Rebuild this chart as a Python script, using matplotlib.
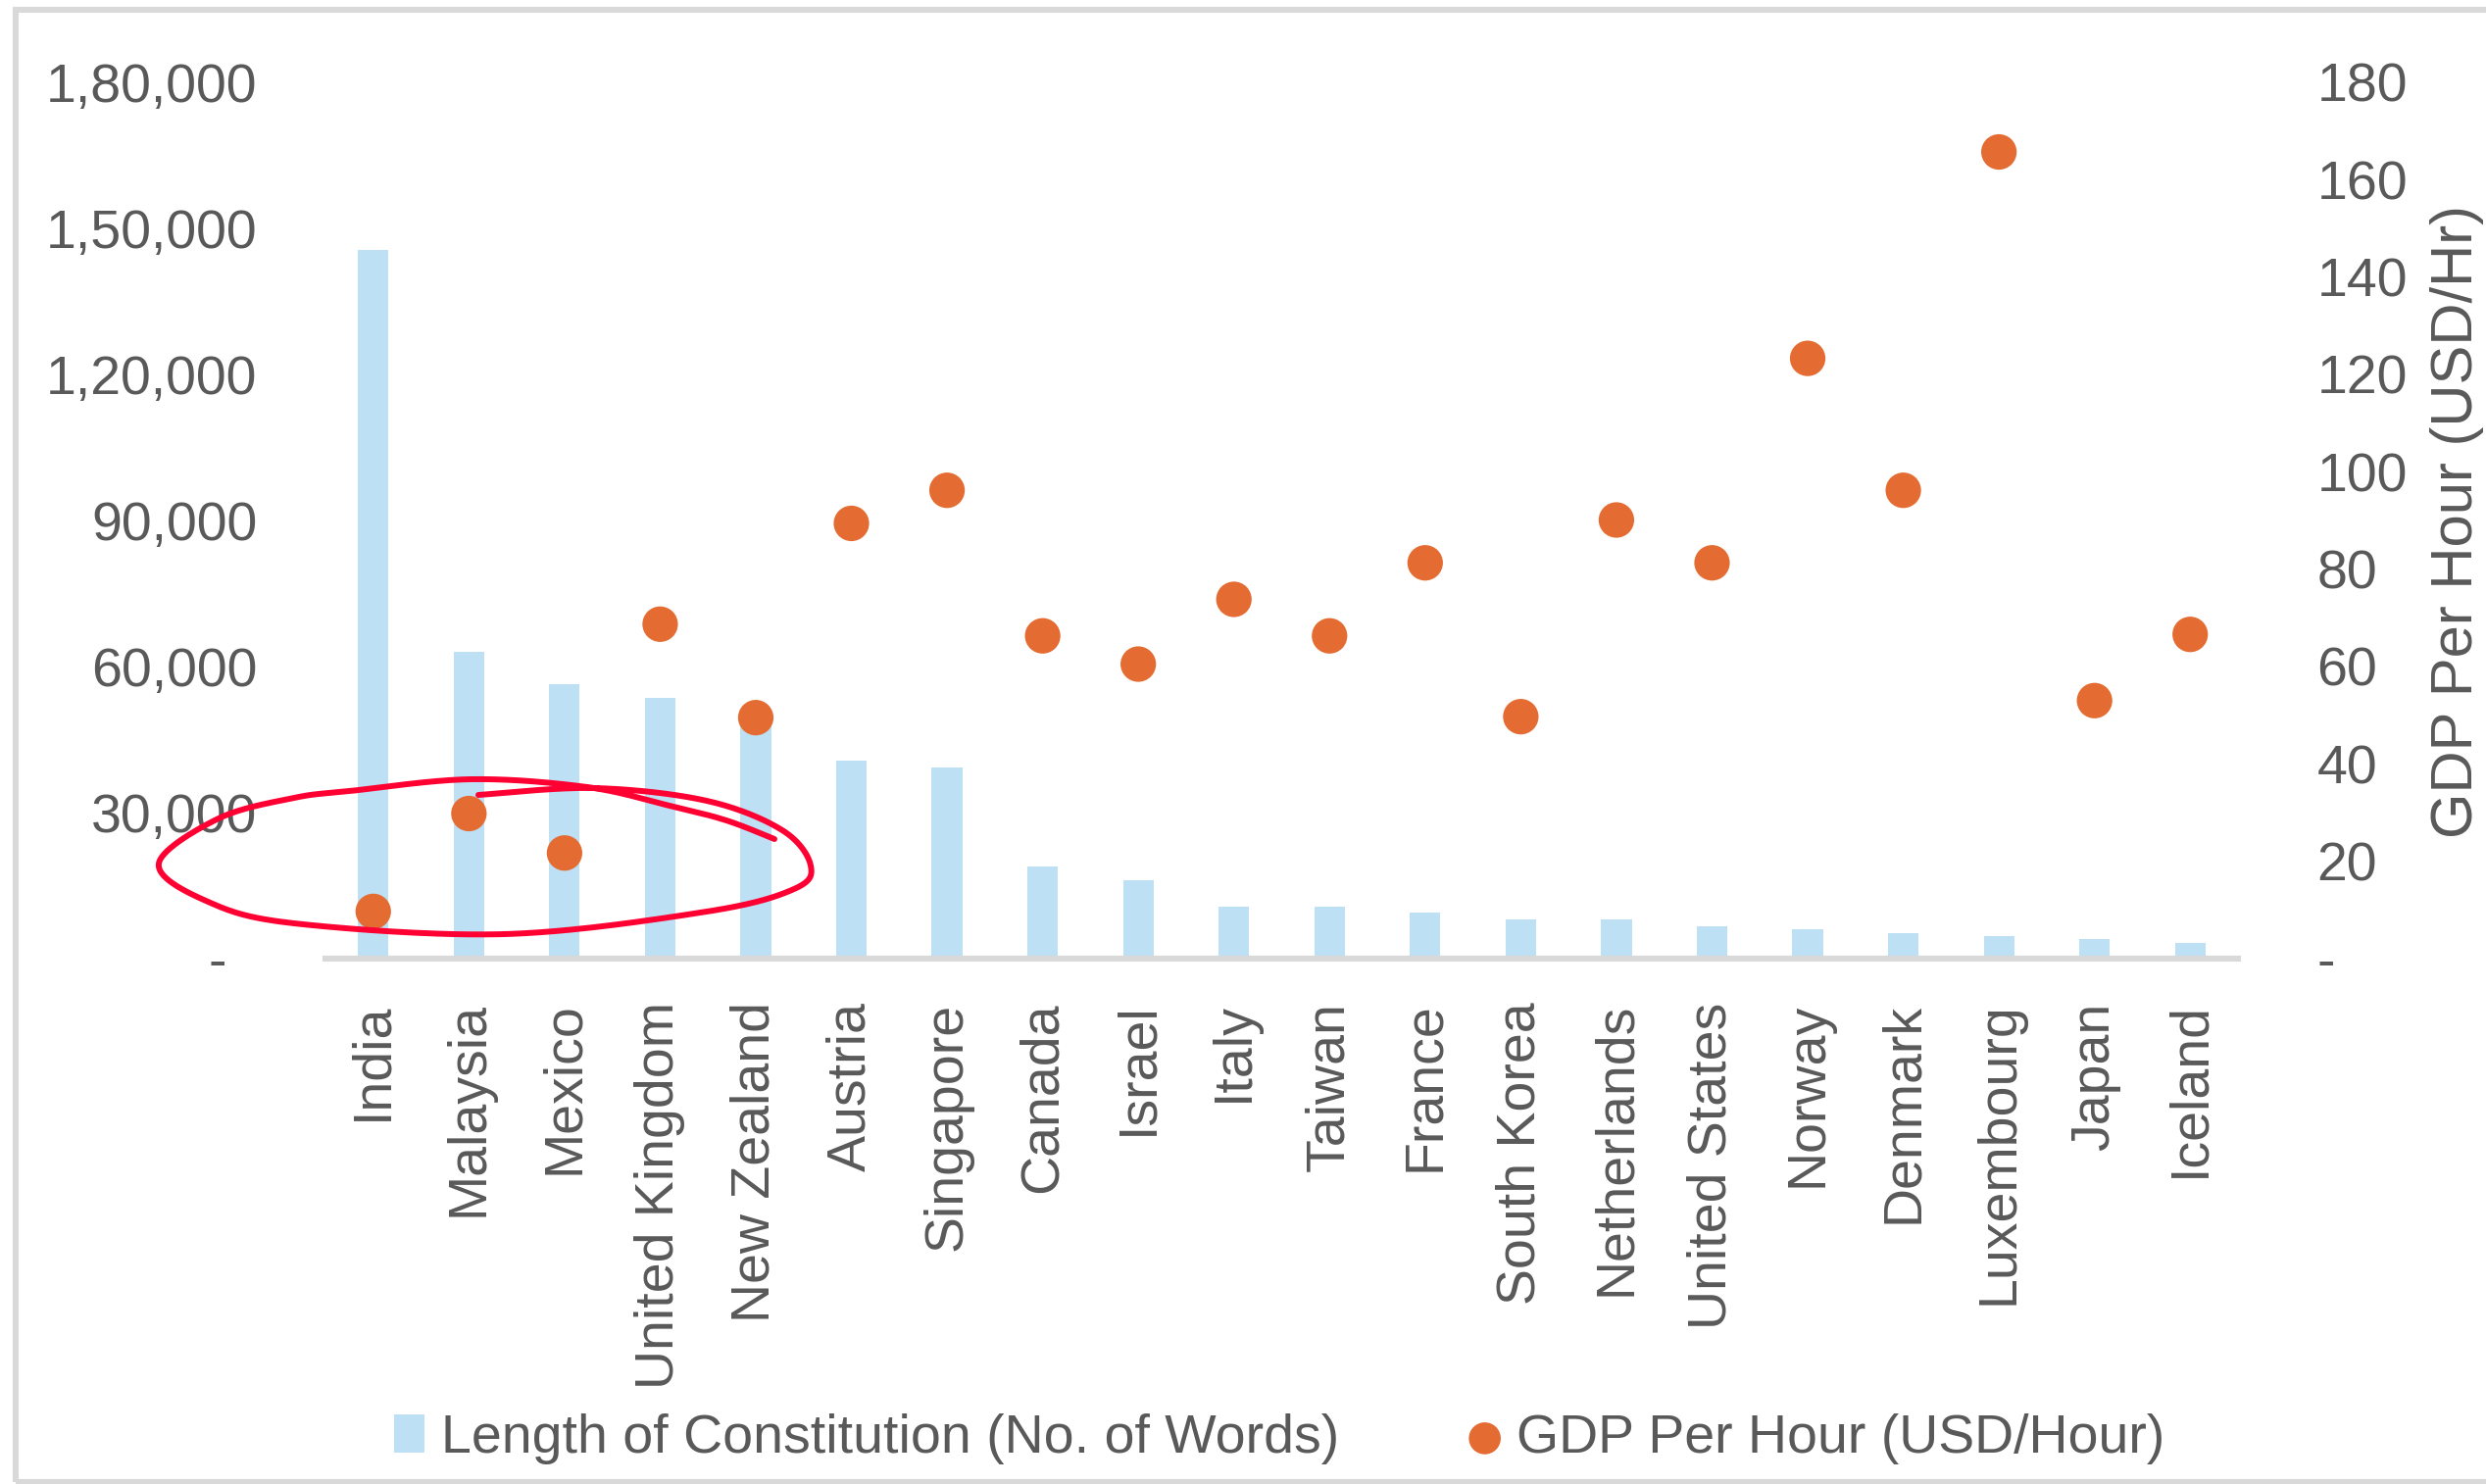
import numpy as np
import matplotlib
matplotlib.use("Agg")
import matplotlib.pyplot as plt
from matplotlib.lines import Line2D
from matplotlib.patches import Rectangle

# ---------------- data ----------------
countries = ["India", "Malaysia", "Mexico", "United Kingdom", "New Zealand",
             "Austria", "Singapore", "Canada", "Israel", "Italy", "Taiwan",
             "France", "South Korea", "Netherlands", "United States", "Norway",
             "Denmark", "Luxembourg", "Japan", "Iceland"]
constitution_words = [145500, 63000, 56300, 53600, 49000, 40700, 39300, 18900,
                      16100, 10700, 10700, 9500, 8050, 8050, 6650, 6050, 5250,
                      4650, 4050, 3250]
gdp_per_hour = [9.7, 29.8, 21.7, 68.7, 49.5, 89.4, 96.2, 66.3, 60.5, 73.8, 66.3,
                81.3, 49.7, 90.1, 81.3, 123.3, 96.2, 165.7, 53.0, 66.6]
left_ticks = [0, 30000, 60000, 90000, 120000, 150000, 180000]
right_ticks = [0, 20, 40, 60, 80, 100, 120, 140, 160, 180]
bar_label = "Length of Constitution (No. of Words)"
dot_label = "GDP Per Hour (USD/Hour)"
right_title = "GDP Per Hour (USD/Hr)"

# ---------------- style ----------------
W, H = 2536, 1514
plt.rcParams['font.family'] = ['Liberation Sans', 'DejaVu Sans']
TXT = "#595959"
BAR_C = "#BDE0F4"
DOT_C = "#E46C32"
GRID_C = "#D9D9D9"
FS = 40

def indian(v):
    v = int(round(v))
    if v == 0:
        return "-  "
    s = str(v)
    last3, rest = s[-3:], s[:-3]
    groups = []
    while len(rest) > 2:
        groups.insert(0, rest[-2:])
        rest = rest[:-2]
    if rest:
        groups.insert(0, rest)
    return ",".join(groups + [last3])

fig = plt.figure(figsize=(W / 100, H / 100), dpi=100)
L, R, T, B = 332, 2283, 84, 978
ax = fig.add_axes([L / W, 1 - B / H, (R - L) / W, (B - T) / H])
ax2 = ax.twinx()

x = np.arange(len(countries))
ax.bar(x, constitution_words, width=0.32, color=BAR_C, label=bar_label, zorder=2)
ax2.scatter(x, gdp_per_hour, s=680, color=DOT_C, edgecolors='none',
            label=dot_label, zorder=3)

ax.set_xlim(-0.5, len(countries) - 0.5)
ax.set_ylim(0, 180000)
ax2.set_ylim(0, 180)

for a in (ax, ax2):
    for sp in a.spines.values():
        sp.set_visible(False)
ax.axhline(0, color=GRID_C, lw=4.4, zorder=4, clip_on=False)

ax.set_yticks(left_ticks)
ax.set_yticklabels([indian(v) for v in left_ticks])
ax2.set_yticks(right_ticks)
ax2.set_yticklabels(["-" if v == 0 else str(v) for v in right_ticks])
ax.set_xticks(x)
ax.set_xticklabels(countries, rotation=90, va='top', ha='center')

ax.tick_params(axis='y', length=0, pad=50, labelsize=FS, labelcolor=TXT)
ax2.tick_params(axis='y', length=0, pad=58, labelsize=FS, labelcolor=TXT)
ax.tick_params(axis='x', length=0, pad=32, labelsize=FS, labelcolor=TXT)

fig.text(2507 / W, 1 - 532 / H, right_title, rotation=90, ha='center',
         va='center', fontsize=43, color=TXT)

# legend
h1, l1 = ax.get_legend_handles_labels()
h2, l2 = ax2.get_legend_handles_labels()
leg = fig.legend(h1 + h2, l1 + l2, loc='center', bbox_to_anchor=(1305 / W, 1 - 1468 / H),
                 ncol=2, frameon=False, fontsize=FS, handlelength=0.56,
                 handleheight=0.7, handletextpad=0.3, columnspacing=2.4,
                 markerscale=0.9, labelcolor=TXT)

# outer chart border
fig.add_artist(Rectangle((16 / W, 1 - 1512 / H), (2560 - 16) / W, (1512 - 10) / H,
                         transform=fig.transFigure, fill=False, edgecolor=GRID_C,
                         lw=4.4, zorder=0, clip_on=False))

# hand-drawn red loop annotation
def catmull(pts, n=30):
    pts = np.asarray(pts, float)
    P = np.vstack([pts[0], pts, pts[-1]])
    out = []
    t = np.linspace(0, 1, n, endpoint=False)[:, None]
    for i in range(1, len(P) - 2):
        p0, p1, p2, p3 = P[i - 1], P[i], P[i + 1], P[i + 2]
        out.append(0.5 * ((2 * p1) + (-p0 + p2) * t
                          + (2 * p0 - 5 * p1 + 4 * p2 - p3) * t ** 2
                          + (-p0 + 3 * p1 - 3 * p2 + p3) * t ** 3))
    out.append(P[-2][None])
    return np.vstack(out)

loop_pts = [(488, 811), (606, 804), (721, 817), (798, 847), (827, 883),
            (810, 907), (721, 930), (515, 953), (300, 942), (210, 919),
            (162, 881), (223, 835), (300, 814), (357, 807), (480, 795),
            (599, 803), (683, 822), (741, 837), (790, 856)]
c = catmull(loop_pts)
fig.add_artist(Line2D(c[:, 0] / W, 1 - c[:, 1] / H, transform=fig.transFigure,
                      color="#FF0033", lw=4.3, solid_capstyle='round', zorder=10))

fig.savefig("out.png", dpi=100)
